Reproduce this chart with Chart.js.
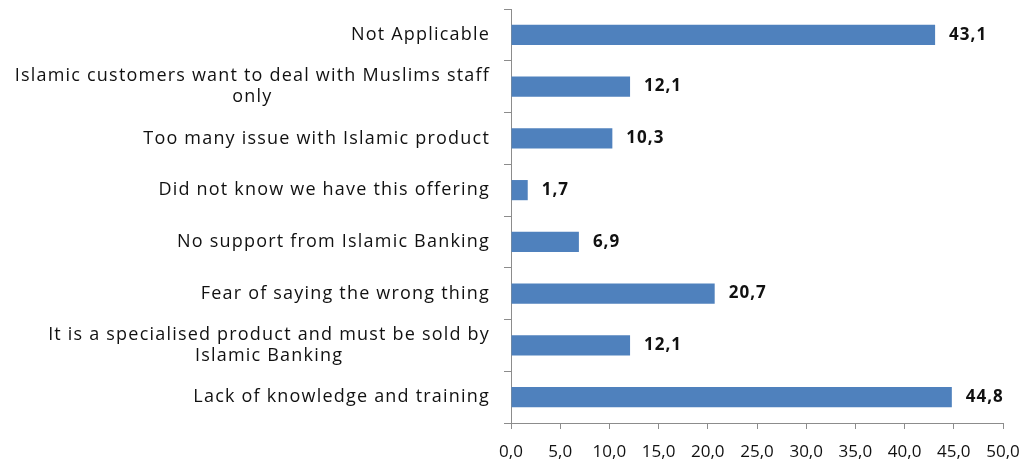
<!DOCTYPE html>
<html>
<head>
<meta charset="utf-8">
<script src="https://cdn.jsdelivr.net/npm/chart.js@4"></script>
<style>
    html, body { margin: 0; padding: 0; background: #fff; }
    #wrap { width: 1027px; height: 465px; }
</style>
</head>
<body>
<div id="wrap"><canvas id="myChart"></canvas></div>
<script>
const reasons = [
    "Not Applicable",
    ["Islamic customers want to deal with Muslims staff", "only"],
    "Too many issue with Islamic product",
    "Did not know we have this offering",
    "No support from Islamic Banking",
    "Fear of saying the wrong thing",
    ["It is a specialised product and must be sold by", "Islamic Banking"],
    "Lack of knowledge and training",
];
const percents = [43.1, 12.1, 10.3, 1.7, 6.9, 20.7, 12.1, 44.8];
const xTicks = [0, 5, 10, 15, 20, 25, 30, 35, 40, 45, 50];

const fontFamily = "'Open Sans', sans-serif";
const fmt = (v) => Number(v).toFixed(1).replace(".", ",");

// draws the category labels (multi-line ones centred line by line) and the value labels
const labelPlugin = {
    id: "labelPlugin",
    afterDraw(chart) {
        const c = chart.ctx;
        const y = chart.scales.y;
        c.save();
        c.letterSpacing = "1.2px";
        c.fillStyle = "#111";
        c.textBaseline = "middle";
        c.font = "18px " + fontFamily;
        const right = chart.chartArea.left - 21;
        reasons.forEach(function (lab, i) {
            const cy = y.getPixelForValue(i);
            const lines = Array.isArray(lab) ? lab : [lab];
            const maxW = Math.max(...lines.map((l) => c.measureText(l).width));
            const lh = 21;
            lines.forEach(function (l, j) {
                const ly = cy + (j - (lines.length - 1) / 2) * lh;
                c.textAlign = "center";
                c.fillText(l, right - maxW / 2, ly);
            });
        });
        c.letterSpacing = "1px";
        c.font = "bold 17px " + fontFamily;
        c.textAlign = "left";
        chart.getDatasetMeta(0).data.forEach(function (bar, i) {
            c.fillText(fmt(percents[i]), bar.x + 14, bar.y);
        });
        c.restore();
    },
};

new Chart(document.getElementById("myChart"), {
    type: "bar",
    data: {
        labels: reasons,
        datasets: [
            {
                data: percents,
                backgroundColor: "#4F81BD",
                borderWidth: 0,
                barPercentage: 0.39,
                categoryPercentage: 1,
            },
        ],
    },
    options: {
        indexAxis: "y",
        responsive: true,
        maintainAspectRatio: false,
        animation: false,
        layout: { padding: { top: 9, right: 24, left: 0, bottom: 0 } },
        plugins: {
            legend: { display: false },
            tooltip: { enabled: false },
        },
        scales: {
            x: {
                min: 0,
                max: 50,
                afterBuildTicks: (axis) => {
                    axis.ticks = xTicks.map((v) => ({ value: v }));
                },
                afterFit: (axis) => {
                    axis.height = 42;
                    axis.paddingLeft = 0;
                    axis.paddingRight = 0;
                },
                ticks: {
                    callback: (v) => fmt(v),
                    color: "#111",
                    font: { size: 17, family: fontFamily },
                    maxRotation: 0,
                    padding: 13,
                },
                grid: {
                    drawOnChartArea: false,
                    tickLength: 6,
                    color: "#8c8c8c",
                },
                border: { color: "#8c8c8c" },
            },
            y: {
                afterFit: (axis) => {
                    axis.width = 511;
                    axis.paddingTop = 0;
                    axis.paddingBottom = 0;
                },
                ticks: { display: false },
                grid: {
                    drawOnChartArea: false,
                    offset: true,
                    tickLength: 7,
                    color: "#8c8c8c",
                },
                border: { color: "#8c8c8c" },
            },
        },
    },
    plugins: [labelPlugin],
});
</script>
</body>
</html>
